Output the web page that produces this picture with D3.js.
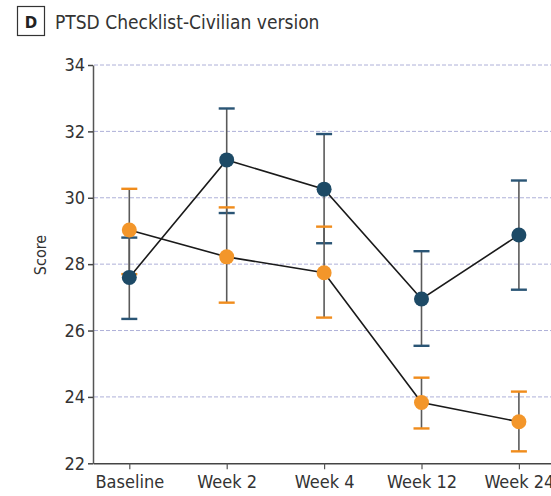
<!DOCTYPE html>
<html>
<head>
<meta charset="utf-8">
<script src="https://cdn.jsdelivr.net/npm/d3@7"></script>
<style>
  html, body { margin: 0; padding: 0; background: #fff; }
  svg { display: block; }
  text { font-family: "Liberation Sans Narrow", "DejaVu Sans Condensed", "Roboto", sans-serif; fill: #333; }
</style>
</head>
<body>
<div id="chart"></div>
<script>
// Time points and y-axis ticks
const timepoints = ["Baseline", "Week 2", "Week 4", "Week 12", "Week 24"];
const yTicks = [22, 24, 26, 28, 30, 32, 34];

// Group 1 (dark blue): mean and 95% CI bounds
const blueMean  = [27.6, 31.14, 30.26, 26.95, 28.88];
const blueLower = [26.35, 29.54, 28.63, 25.54, 27.23];
const blueUpper = [28.8, 32.69, 31.92, 28.39, 30.52];

// Group 2 (orange): mean and 95% CI bounds
const orangeMean  = [29.03, 28.22, 27.74, 23.83, 23.25];
const orangeLower = [27.7, 26.84, 26.39, 23.05, 22.36];
const orangeUpper = [30.27, 29.71, 29.13, 24.58, 24.16];

const W = 551, H = 496;
const svg = d3.select("#chart").append("svg").attr("width", W).attr("height", H);

const y = d3.scaleLinear().domain([22, 34]).range([463.3, 65]);
const x = d3.scalePoint().domain(timepoints).range([93, 555.2]).padding(0.3727);

// Panel label and title
svg.append("rect").attr("x", 17.5).attr("y", 6.5).attr("width", 27).attr("height", 29)
  .attr("fill", "#fff").attr("stroke", "#333").attr("stroke-width", 1.2);
svg.append("text").attr("x", 31).attr("y", 28).attr("text-anchor", "middle")
  .style("font-family", "'DejaVu Sans', sans-serif").style("font-weight", "bold")
  .style("font-size", "15px").style("fill", "#222").text("D");
svg.append("text").attr("x", 55).attr("y", 29)
  .style("font-size", "19px").style("fill", "#333").text("PTSD Checklist-Civilian version");

// Horizontal gridlines
svg.append("g").selectAll("line").data(yTicks.filter(t => t > 22)).join("line")
  .attr("x1", 94).attr("x2", W).attr("y1", d => y(d)).attr("y2", d => y(d))
  .attr("stroke", "#aeb0d8").attr("stroke-width", 1).attr("stroke-dasharray", "4,2");

// Y axis
const yAxis = svg.append("g").attr("transform", "translate(93,0)")
  .call(d3.axisLeft(y).tickValues(yTicks).tickSize(5).tickSizeOuter(0).tickPadding(3));
yAxis.select(".domain").attr("stroke", "#555").attr("stroke-width", 1.5);
yAxis.selectAll(".tick line").attr("stroke", "#444").attr("stroke-width", 1.5);
yAxis.selectAll(".tick text").style("font-size", "18px").style("fill", "#333");

// X axis
const xAxis = svg.append("g").attr("transform", "translate(0,463.3)")
  .call(d3.axisBottom(x).tickSize(6).tickSizeOuter(0).tickPadding(6));
xAxis.select(".domain").attr("stroke", "#444").attr("stroke-width", 1.5);
xAxis.selectAll(".tick line").attr("stroke", "#555").attr("stroke-width", 1.2);
xAxis.selectAll(".tick text").style("font-size", "18px").style("fill", "#333");

// Y axis title
svg.append("text").attr("transform", "translate(46,255) rotate(-90)")
  .attr("text-anchor", "middle").style("font-size", "16px").text("Score");

const series = [
  { mean: blueMean, lo: blueLower, hi: blueUpper, dot: "#1d4a66", cap: "#2a5575" },
  { mean: orangeMean, lo: orangeLower, hi: orangeUpper, dot: "#f3962a", cap: "#f08c1c" }
];

// Error bar stems and caps
series.forEach(s => {
  const g = svg.append("g");
  g.selectAll("line.stem").data(timepoints).join("line").attr("class", "stem")
    .attr("x1", d => x(d)).attr("x2", d => x(d))
    .attr("y1", (d, i) => y(s.lo[i])).attr("y2", (d, i) => y(s.hi[i]))
    .attr("stroke", "#5a5a5a").attr("stroke-width", 1.6);
  ["lo", "hi"].forEach(k => {
    g.selectAll("line.cap-" + k).data(timepoints).join("line").attr("class", "cap-" + k)
      .attr("x1", d => x(d) - 8).attr("x2", d => x(d) + 8)
      .attr("y1", (d, i) => y(s[k][i])).attr("y2", (d, i) => y(s[k][i]))
      .attr("stroke", s.cap).attr("stroke-width", 2.4);
  });
});

// Connecting lines
const line = d3.line().x(d => x(d.t)).y(d => y(d.v));
series.forEach(s => {
  svg.append("path").datum(timepoints.map((t, i) => ({ t, v: s.mean[i] })))
    .attr("d", line).attr("fill", "none").attr("stroke", "#1a1a1a").attr("stroke-width", 1.6);
});

// Mean markers
series.forEach(s => {
  svg.append("g").selectAll("circle").data(timepoints).join("circle")
    .attr("cx", d => x(d)).attr("cy", (d, i) => y(s.mean[i])).attr("r", 7.5)
    .attr("fill", s.dot);
});
</script>
</body>
</html>
